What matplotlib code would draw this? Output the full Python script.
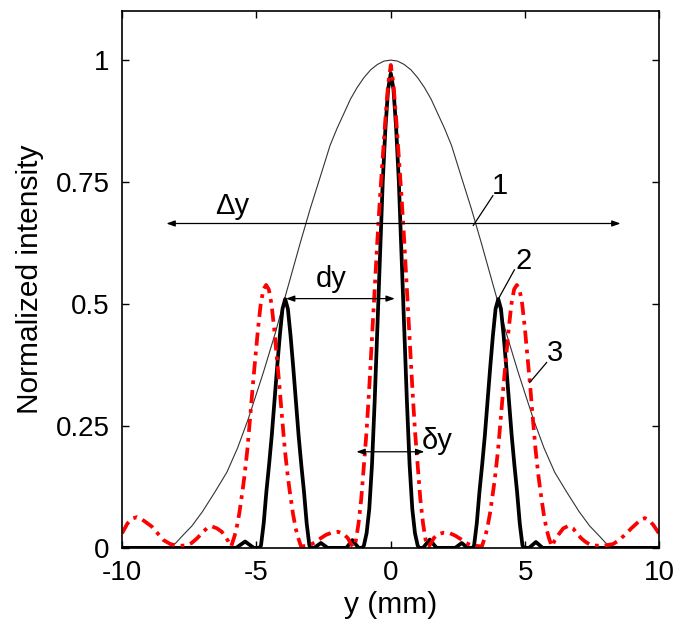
import numpy as np
import matplotlib
matplotlib.use("Agg")
import matplotlib.pyplot as plt

plt.rcParams['font.family'] = ['Liberation Sans', 'DejaVu Sans']

# curve 1: thin envelope
x_env = [-10, -8.25, -8.0, -7.8, -7.4, -7.0, -6.54, -6.1, -5.7, -5.3, -4.74, -4.3,
         -3.93, -3.37, -3.0, -2.6, -2.26, -2.0, -1.5, -1.25, -1.0, -0.75, -0.5, -0.25, 0,
         0.25, 0.5, 0.75, 1.0, 1.25, 1.5, 2.0, 2.26, 2.6, 3.0, 3.37, 3.93, 4.3, 4.74, 5.3,
         5.7, 6.1, 6.54, 7.0, 7.4, 7.8, 8.0, 8.25, 10]
y_env = [0, 0, 0.01, 0.022, 0.045, 0.075, 0.115, 0.155, 0.205, 0.265, 0.36, 0.44,
         0.515, 0.625, 0.695, 0.765, 0.825, 0.86, 0.92, 0.944, 0.964, 0.98, 0.991, 0.998, 1.0,
         0.998, 0.991, 0.98, 0.964, 0.944, 0.92, 0.86, 0.825, 0.765, 0.695, 0.625, 0.515, 0.44,
         0.36, 0.265, 0.205, 0.155, 0.115, 0.075, 0.045, 0.022, 0.01, 0, 0]

# curve 2: thick black
x_blk = [-10, -5.75, -5.6, -5.42, -5.25, -5.1,
         -4.88, -4.83, -4.73, -4.63, -4.53, -4.43, -4.33, -4.23, -4.13, -4.03, -3.93,
         -3.83, -3.73, -3.63, -3.53, -3.43, -3.33, -3.23, -3.13, -3.03, -2.98,
         -2.85, -2.6, -2.35, -1.65, -1.43, -1.2,
         -1.05, -1.0, -0.9, -0.8, -0.7, -0.6, -0.5, -0.4, -0.3, -0.2, -0.1, 0,
         0.1, 0.2, 0.3, 0.4, 0.5, 0.6, 0.7, 0.8, 0.9, 1.0, 1.05,
         1.2, 1.45, 1.7, 2.4, 2.64, 2.85,
         3.05, 3.1, 3.2, 3.3, 3.4, 3.5, 3.6, 3.7, 3.8, 3.9, 4.0,
         4.1, 4.2, 4.3, 4.4, 4.5, 4.6, 4.7, 4.8, 4.9, 4.95,
         5.15, 5.4, 5.65, 10]
y_blk = [0, 0, 0.006, 0.013, 0.006, 0,
         0, 0.005, 0.05, 0.115, 0.17, 0.23, 0.30, 0.37, 0.435, 0.49, 0.51,
         0.49, 0.435, 0.37, 0.30, 0.23, 0.17, 0.115, 0.05, 0.005, 0,
         0, 0.01, 0, 0, 0.016, 0,
         0, 0.005, 0.03, 0.08, 0.17, 0.3, 0.45, 0.6, 0.75, 0.86, 0.94, 0.973,
         0.94, 0.86, 0.75, 0.6, 0.45, 0.3, 0.17, 0.08, 0.03, 0.005, 0,
         0, 0.017, 0, 0, 0.01, 0,
         0, 0.005, 0.05, 0.115, 0.17, 0.23, 0.30, 0.37, 0.435, 0.49, 0.51,
         0.49, 0.435, 0.37, 0.30, 0.23, 0.17, 0.115, 0.05, 0.005, 0,
         0, 0.012, 0, 0]

# curve 3: red dash-dot
x_red = [-10, -9.8, -9.62, -9.45, -9.25, -9.05, -8.9, -8.65, -8.46, -8.21, -7.95,
         -7.6, -7.41, -7.2, -7.03, -6.85, -6.66, -6.47, -6.29, -6.15, -6.04, -5.94,
         -5.82, -5.74, -5.64, -5.51, -5.44, -5.34, -5.22, -5.14, -5.04, -4.94, -4.84,
         -4.74, -4.64, -4.54, -4.44, -4.34, -4.24, -4.14, -4.06, -3.94, -3.84, -3.77,
         -3.64, -3.54, -3.46, -3.34,
         -3.15, -3.0, -2.8, -2.6, -2.4, -2.2, -1.96, -1.75, -1.6, -1.5, -1.42,
         -1.35, -1.3, -1.2, -1.1, -1.0, -0.9, -0.8, -0.7, -0.6, -0.5, -0.4, -0.3,
         -0.2, -0.1, 0, 0.1, 0.2, 0.3, 0.4, 0.5, 0.6, 0.7, 0.8, 0.9, 1.0, 1.1,
         1.2, 1.3, 1.35,
         1.42, 1.5, 1.6, 1.75, 1.96, 2.2, 2.4, 2.6, 2.8, 3.0, 3.2,
         3.39, 3.51, 3.59, 3.69, 3.82, 3.89, 3.99, 4.11, 4.19, 4.29, 4.39, 4.49,
         4.59, 4.69, 4.79, 4.89, 4.99, 5.09, 5.19, 5.27, 5.39, 5.49, 5.56, 5.69,
         5.79, 5.87, 5.99,
         6.1, 6.24, 6.42, 6.61, 6.78, 6.92, 7.08, 7.23, 7.4, 7.54, 7.9, 8.28,
         8.5, 8.78, 8.95, 9.15, 9.3, 9.46, 9.62, 9.77, 10]
y_red = [0.03, 0.05, 0.06, 0.063, 0.058, 0.05, 0.044, 0.028, 0.016, 0.008, 0.004,
         0.005, 0.01, 0.02, 0.03, 0.04, 0.044, 0.04, 0.033, 0.022, 0.013, 0.003,
         0.023, 0.04, 0.07, 0.12, 0.15, 0.2, 0.276, 0.33, 0.39, 0.45, 0.5,
         0.53, 0.539, 0.53, 0.5, 0.45, 0.39, 0.33, 0.276, 0.2, 0.15, 0.12,
         0.07, 0.04, 0.023, 0.003,
         0.004, 0.006, 0.012, 0.02, 0.027, 0.031, 0.033, 0.028, 0.02, 0.01, 0.003,
         0.003, 0.015, 0.05, 0.1, 0.17, 0.24, 0.33, 0.43, 0.53, 0.63, 0.72, 0.80,
         0.88, 0.95, 0.99, 0.95, 0.88, 0.80, 0.72, 0.63, 0.53, 0.43, 0.33, 0.24, 0.17, 0.1,
         0.05, 0.015, 0.003,
         0.003, 0.01, 0.02, 0.028, 0.031, 0.03, 0.025, 0.018, 0.01, 0.005, 0.004,
         0.003, 0.023, 0.04, 0.07, 0.12, 0.15, 0.2, 0.276, 0.33, 0.39, 0.45, 0.5,
         0.53, 0.539, 0.53, 0.5, 0.45, 0.39, 0.33, 0.276, 0.2, 0.15, 0.12, 0.07,
         0.04, 0.023, 0.003,
         0.015, 0.027, 0.04, 0.045, 0.04, 0.03, 0.02, 0.013, 0.007, 0.005, 0.004, 0.008,
         0.016, 0.03, 0.04, 0.05, 0.058, 0.061, 0.056, 0.047, 0.028]

xticks = [-10, -5, 0, 5, 10]
xtick_labels = ["-10", "-5", "0", "5", "10"]
yticks = [0, 0.25, 0.5, 0.75, 1]
ytick_labels = ["0", "0.25", "0.5", "0.75", "1"]

fig = plt.figure(figsize=(6.82, 6.29), dpi=100)
ax = fig.add_axes([0.179, 0.129, 0.788, 0.853])

ax.plot(x_env, y_env, color="#333333", lw=0.8)
ax.plot(x_blk, y_blk, color="black", lw=2.7, solid_joinstyle="round")
ax.plot(x_red, y_red, color="#ff0000", lw=2.7, linestyle=(0, (3.5, 1.6, 1.0, 1.6)))

ax.set_xlim(-10, 10)
ax.set_ylim(0, 1.1)
ax.set_xticks(xticks)
ax.set_xticklabels(xtick_labels)
ax.set_yticks(yticks)
ax.set_yticklabels(ytick_labels)
ax.tick_params(direction="in", top=True, right=True, length=5, width=1,
               labelsize=20, pad=9)
for s in ax.spines.values():
    s.set_linewidth(1.2)

ax.set_xlabel("y (mm)", fontsize=21.5, labelpad=3)
ax.set_ylabel("Normalized intensity", fontsize=21.5, labelpad=8)

fs = 21
arr = dict(arrowstyle="<|-|>,head_length=0.5,head_width=0.18", color="black", lw=0.9,
           shrinkA=0, shrinkB=0)
ax.annotate("", xy=(8.55, 0.665), xytext=(-8.35, 0.665), arrowprops=arr)
ax.text(-5.9, 0.672, "Δy", fontsize=fs, ha="center", va="bottom")

ax.annotate("", xy=(0.15, 0.511), xytext=(-3.9, 0.511), arrowprops=arr)
ax.text(-2.2, 0.522, "dy", fontsize=fs, ha="center", va="bottom")

ax.annotate("", xy=(1.25, 0.197), xytext=(-1.28, 0.197), arrowprops=arr)
ax.text(1.15, 0.19, "δy", fontsize=fs, ha="left", va="bottom")

lead = dict(color="black", lw=0.9)
ax.plot([3.07, 3.8], [0.661, 0.722], **lead)
ax.text(4.05, 0.742, "1", fontsize=fs, ha="center", va="center")
ax.plot([4.02, 4.6], [0.512, 0.57], **lead)
ax.text(4.95, 0.588, "2", fontsize=fs, ha="center", va="center")
ax.plot([5.17, 5.8], [0.339, 0.38], **lead)
ax.text(6.12, 0.4, "3", fontsize=fs, ha="center", va="center")

plt.savefig("out.png", dpi=100)
